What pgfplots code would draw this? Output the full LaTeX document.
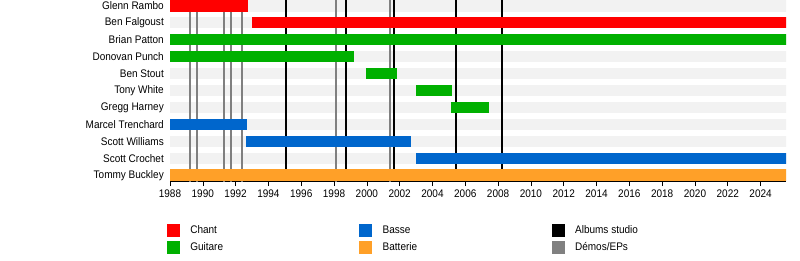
\documentclass[border=0pt]{standalone}
\usepackage{pgfplots}
\pgfplotsset{compat=1.18}
\usepackage{fontspec}
\setmainfont{Liberation Sans}[FakeStretch=0.91]
\definecolor{cChant}{RGB}{255,0,0}
\definecolor{cGuit}{RGB}{0,176,0}
\definecolor{cBasse}{RGB}{0,102,204}
\definecolor{cBatt}{RGB}{255,160,40}
\definecolor{cStripe}{RGB}{242,242,242}
\definecolor{cDemo}{RGB}{128,128,128}
\newcommand\lfont{\fontsize{11}{12}\selectfont}
\begin{document}
\begin{tikzpicture}
\useasboundingbox (0,0) rectangle (800pt,-260pt);
\begin{axis}[
  at={(170pt,0pt)}, anchor=north west,
  scale only axis, width=616pt, height=181pt,
  xmin=1988, xmax=2025.55, ymin=-0.34, ymax=10.34,
  axis lines*=left,
  y axis line style={draw=none},
  ytick={0,...,10},
  yticklabels={Tommy Buckley,Scott Crochet,Scott Williams,Marcel Trenchard,Gregg Harney,Tony White,Ben Stout,Donovan Punch,Brian Patton,Ben Falgoust,Glenn Rambo},
  ytick style={draw=none},
  yticklabel style={font=\lfont, inner sep=0pt, xshift=-6pt},
  xtick={1988,1990,...,2024},
  minor x tick num=1,
  xtick align=outside,
  major tick length=5pt, minor tick length=3pt,
  x tick style={black, line width=0.6pt},
  x axis line style={black, line width=0.6pt, -},
  xticklabel style={font=\lfont, inner sep=0pt, yshift=-4pt},
  /pgf/number format/assume math mode=true,
  /pgf/number format/1000 sep={},
  legend columns=3,
  legend style={at={(axis description cs:-0.005,-0.2376)}, anchor=north west,
    draw=none, fill=none, inner sep=0pt, outer sep=0pt, row sep=4.5pt,
    /tikz/every odd column/.append style={column sep=11pt},
    nodes={inner sep=0pt, font=\lfont}},
]
% background stripes
\pgfplotsinvokeforeach{0,...,10}{
  \addplot[cStripe, line width=11.5pt, forget plot] coordinates {(1987,#1) (2027,#1)};
}
% demos / EPs
\addplot[cDemo, line width=2.2pt, forget plot] coordinates {(1989.22,-0.5) (1989.22,10.5)};
\addplot[cDemo, line width=2.2pt, forget plot] coordinates {(1989.66,-0.5) (1989.66,10.5)};
\addplot[cDemo, line width=2.2pt, forget plot] coordinates {(1991.29,-0.5) (1991.29,10.5)};
\addplot[cDemo, line width=2.2pt, forget plot] coordinates {(1991.70,-0.5) (1991.70,10.5)};
\addplot[cDemo, line width=2.2pt, forget plot] coordinates {(1992.41,-0.5) (1992.41,10.5)};
\addplot[cDemo, line width=2.2pt, forget plot] coordinates {(1998.10,-0.5) (1998.10,10.5)};
\addplot[cDemo, line width=2.2pt, forget plot] coordinates {(2001.43,-0.5) (2001.43,10.5)};
% studio albums
\addplot[black, line width=2.2pt, forget plot] coordinates {(1995.07,-0.5) (1995.07,10.5)};
\addplot[black, line width=2.2pt, forget plot] coordinates {(1998.73,-0.5) (1998.73,10.5)};
\addplot[black, line width=2.2pt, forget plot] coordinates {(2001.65,-0.5) (2001.65,10.5)};
\addplot[black, line width=2.2pt, forget plot] coordinates {(2005.41,-0.5) (2005.41,10.5)};
\addplot[black, line width=2.2pt, forget plot] coordinates {(2008.25,-0.5) (2008.25,10.5)};
% member bars
\addplot[cChant, line width=11.5pt, forget plot] coordinates {(1988,10) (1992.73,10)};
\addplot[cChant, line width=11.5pt, forget plot] coordinates {(1993.02,9) (2026,9)};
\addplot[cGuit, line width=11.5pt, forget plot] coordinates {(1988,8) (2026,8)};
\addplot[cGuit, line width=11.5pt, forget plot] coordinates {(1988,7) (1999.23,7)};
\addplot[cGuit, line width=11.5pt, forget plot] coordinates {(1999.94,6) (2001.81,6)};
\addplot[cGuit, line width=11.5pt, forget plot] coordinates {(2003.0,5) (2005.18,5)};
\addplot[cGuit, line width=11.5pt, forget plot] coordinates {(2005.12,4) (2007.44,4)};
\addplot[cBasse, line width=11.5pt, forget plot] coordinates {(1988,3) (1992.67,3)};
\addplot[cBasse, line width=11.5pt, forget plot] coordinates {(1992.64,2) (2002.69,2)};
\addplot[cBasse, line width=11.5pt, forget plot] coordinates {(2003.0,1) (2026,1)};
\addplot[cBatt, line width=11.5pt, forget plot] coordinates {(1988,0) (2026,0)};
% legend
\addlegendimage{legend image code/.code={\fill[cChant] (0pt,-6pt) rectangle (12pt,6pt);}}
\addlegendentry{\makebox[169pt][l]{Chant}}
\addlegendimage{legend image code/.code={\fill[cBasse] (0pt,-6pt) rectangle (12pt,6pt);}}
\addlegendentry{\makebox[169pt][l]{Basse}}
\addlegendimage{legend image code/.code={\fill[black] (0pt,-6pt) rectangle (12pt,6pt);}}
\addlegendentry{\makebox[100pt][l]{Albums studio}}
\addlegendimage{legend image code/.code={\fill[cGuit] (0pt,-6pt) rectangle (12pt,6pt);}}
\addlegendentry{\makebox[169pt][l]{Guitare}}
\addlegendimage{legend image code/.code={\fill[cBatt] (0pt,-6pt) rectangle (12pt,6pt);}}
\addlegendentry{\makebox[169pt][l]{Batterie}}
\addlegendimage{legend image code/.code={\fill[cDemo] (0pt,-6pt) rectangle (12pt,6pt);}}
\addlegendentry{\makebox[100pt][l]{Démos/EPs}}
\end{axis}
\end{tikzpicture}
\end{document}
